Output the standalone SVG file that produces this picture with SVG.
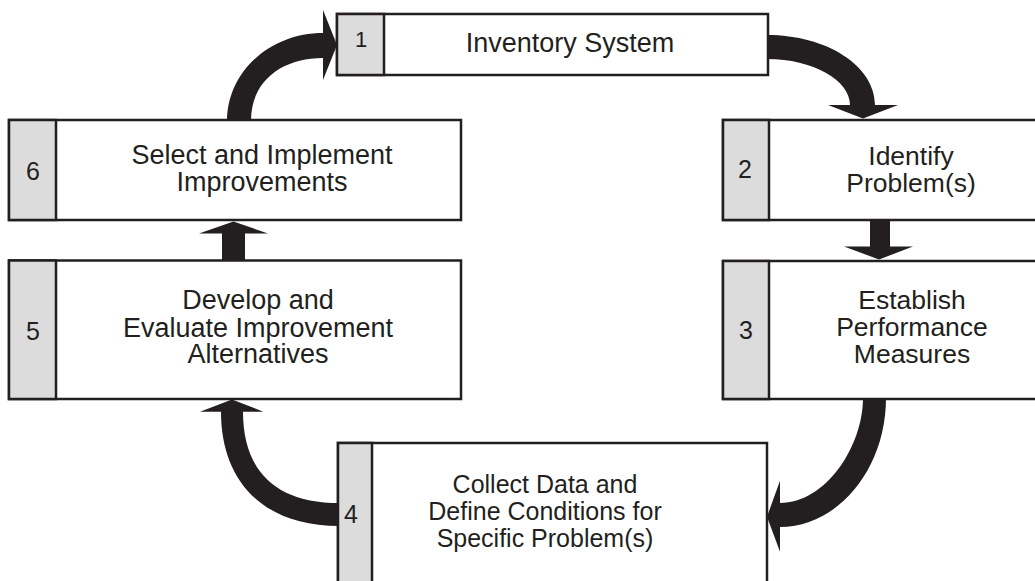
<svg xmlns="http://www.w3.org/2000/svg" width="1035" height="581" viewBox="0 0 1035 581">
<style>
.box{fill:#ffffff;stroke:#231f20;stroke-width:2.5}
.strip{fill:#dcdcdc;stroke:#231f20;stroke-width:2.5}
.t{font-family:"Liberation Sans",Arial,sans-serif;font-size:27px;fill:#231f20;text-anchor:middle}
.t3{font-size:26.5px}
.t4{font-size:25px}
.n{font-family:"Liberation Sans",Arial,sans-serif;font-size:25px;fill:#231f20;text-anchor:middle}
.arr{fill:#231f20;stroke:none}
</style>
<rect width="1035" height="581" fill="#ffffff"/>
<g id="connectors">
<path class="arr" d="M227,121 C227,72 270,33 323,33 L323,10 L337,45 L323,80 L323,58 C283,58 251,80 251,121 Z"/>
<path class="arr" d="M767,35 C827,35 875,66 875,105 L898,105 L863,118.5 L828,105 L850,105 C850,80 813,59 767,59 Z"/>
<path class="arr" d="M870,220 L890,220 L890,246.5 L913,246.5 L879,259.5 L844,246.5 L870,246.5 Z"/>
<path class="arr" d="M886,398 C886,469 838,527 780,527 L780,551.7 L767,516.7 L780,480.7 L780,503 C826,503 863,446 863,398 Z"/>
<path class="arr" d="M339,526 C262,526 221,480 221,411.7 L200,411.7 L232,399.5 L263.3,411.7 L243,411.7 C243,471 276,503 339,503 Z"/>
<path class="arr" d="M222,261 L245,261 L245,233.5 L268,233.5 L233.5,221.5 L199,233.5 L222,233.5 Z"/>
</g>
<g id="node1">
<rect class="box" x="337" y="14" width="431" height="61"/>
<rect class="strip" x="337" y="14" width="47" height="61"/>
<text class="n" x="361" y="47" style="font-size:22px">1</text>
<text class="t" x="570" y="52">Inventory System</text>
</g>
<g id="node2">
<rect class="box" x="723" y="120" width="330" height="100"/>
<rect class="strip" x="723" y="120" width="46" height="100"/>
<text class="n" x="745" y="178">2</text>
<text class="t t3" x="911" y="165">Identify</text>
<text class="t t3" x="911" y="191.5">Problem(s)</text>
</g>
<g id="node3">
<rect class="box" x="723" y="261" width="330" height="138"/>
<rect class="strip" x="723" y="261" width="46" height="138"/>
<text class="n" x="746" y="339">3</text>
<text class="t t3" x="912" y="309">Establish</text>
<text class="t t3" x="912" y="336">Performance</text>
<text class="t t3" x="912" y="363">Measures</text>
</g>
<g id="node4">
<rect class="box" x="338" y="443" width="429" height="160"/>
<rect class="strip" x="338" y="443" width="34" height="160"/>
<text class="n" x="351" y="522.5">4</text>
<text class="t t4" x="545" y="492.5">Collect Data and</text>
<text class="t t4" x="545" y="519.5">Define Conditions for</text>
<text class="t t4" x="545" y="546.5">Specific Problem(s)</text>
</g>
<g id="node5">
<rect class="box" x="9" y="260.5" width="452" height="138.5"/>
<rect class="strip" x="9" y="260.5" width="47" height="138.5"/>
<text class="n" x="33" y="340">5</text>
<text class="t" x="258" y="309">Develop and</text>
<text class="t" x="258" y="336.5">Evaluate Improvement</text>
<text class="t" x="258" y="363">Alternatives</text>
</g>
<g id="node6">
<rect class="box" x="9" y="120" width="452" height="100"/>
<rect class="strip" x="9" y="120" width="47" height="100"/>
<text class="n" x="33" y="180">6</text>
<text class="t" x="262" y="164">Select and Implement</text>
<text class="t" x="262" y="191">Improvements</text>
</g>
</svg>
